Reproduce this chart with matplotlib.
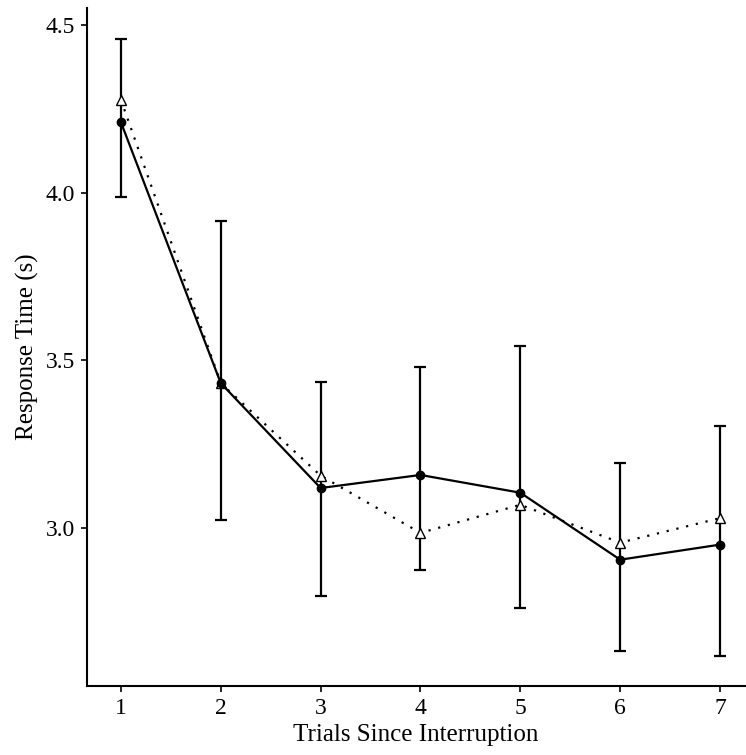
import matplotlib
matplotlib.use("Agg")
import matplotlib.pyplot as plt

plt.rcParams['font.family'] = ['Liberation Serif', 'DejaVu Serif']

trials = [1, 2, 3, 4, 5, 6, 7]
solid_rt = [4.21, 3.431, 3.118, 3.157, 3.104, 2.904, 2.949]
err_low = [3.986, 3.023, 2.797, 2.874, 2.761, 2.630, 2.617]
err_high = [4.458, 3.915, 3.436, 3.480, 3.542, 3.194, 3.304]
dotted_rt = [4.277, 3.431, 3.155, 2.984, 3.068, 2.955, 3.028]
yticks = [3.0, 3.5, 4.0, 4.5]
ytick_labels = ["3.0", "3.5", "4.0", "4.5"]

fig = plt.figure(figsize=(7.46, 7.55), dpi=100)
ax = fig.add_axes([0.1166, 0.0914, 0.882, 0.898])

lower = [m - l for m, l in zip(solid_rt, err_low)]
upper = [h - m for m, h in zip(solid_rt, err_high)]
ax.errorbar(trials, solid_rt, yerr=[lower, upper], fmt='none', ecolor='black',
            elinewidth=1.6, capsize=4.5, capthick=1.6, zorder=2)
ax.plot(trials, dotted_rt, linestyle=(0, (1, 3.5)), color='black', linewidth=1.6,
        marker='^', markersize=7.5, markerfacecolor='white', markeredgecolor='black',
        markeredgewidth=1.0, zorder=3)
ax.plot(trials, solid_rt, linestyle='-', color='black', linewidth=1.6,
        marker='o', markersize=6, markerfacecolor='black', markeredgecolor='black', zorder=4)

ax.set_xlim(0.66, 7.25)
ax.set_ylim(2.527, 4.551)
ax.set_xticks(trials)
ax.set_xticklabels([str(t) for t in trials])
ax.set_yticks(yticks)
ax.set_yticklabels(ytick_labels)

for s in ['top', 'right']:
    ax.spines[s].set_visible(False)
for s in ['left', 'bottom']:
    ax.spines[s].set_linewidth(1.5)
ax.tick_params(axis='both', direction='out', length=4.5, width=1.2, labelsize=17, pad=4)

ax.set_xlabel("Trials Since Interruption", fontsize=18, labelpad=4)
ax.set_ylabel("Response Time (s)", fontsize=18, labelpad=5)

fig.savefig("out.png", dpi=100)
